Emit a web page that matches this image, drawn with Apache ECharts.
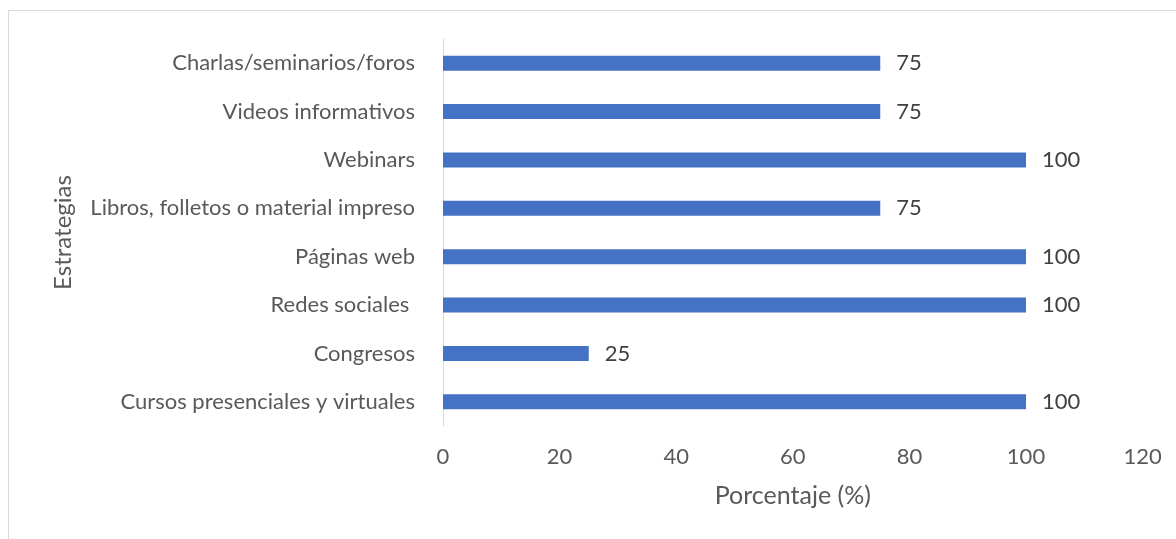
<!DOCTYPE html>
<html>
<head>
<meta charset="utf-8">
<script src="https://cdn.jsdelivr.net/npm/echarts@6/dist/echarts.min.js"></script>
<style>
  html, body { margin: 0; padding: 0; background: #fff; }
  #chart { width: 1176px; height: 539px; }
</style>
</head>
<body>
<div id="chart"></div>
<script>
// Strategies (bottom to top) and their percentages
const categories = [
  'Cursos presenciales y virtuales',
  'Congresos',
  'Redes sociales ',
  'Páginas web',
  'Libros, folletos o material impreso',
  'Webinars',
  'Videos informativos',
  'Charlas/seminarios/foros'
];
const values = [100, 25, 100, 100, 75, 100, 75, 75];
const xTicks = [0, 20, 40, 60, 80, 100, 120];

const FONT = 'Lato';
const TEXT = '#595959';

const chart = echarts.init(document.getElementById('chart'), null, { renderer: 'canvas' });
chart.setOption({
  backgroundColor: '#fff',
  animation: false,
  textStyle: { fontFamily: FONT },
  graphic: [{
    type: 'rect',
    shape: { x: 8.5, y: 10.5, width: 1300, height: 700 },
    style: { fill: 'none', stroke: '#d9d9d9', lineWidth: 1 },
    silent: true
  }],
  grid: { left: 443, right: 33.4, top: 39, bottom: 113, containLabel: false },
  xAxis: {
    type: 'value',
    min: xTicks[0],
    max: xTicks[xTicks.length - 1],
    interval: 20,
    name: 'Porcentaje (%)',
    nameLocation: 'middle',
    nameGap: 57,
    nameTextStyle: { color: TEXT, fontSize: 25, fontFamily: FONT },
    axisLine: { show: false },
    axisTick: { show: false },
    splitLine: { show: false },
    axisLabel: { color: TEXT, fontSize: 22, margin: 20, fontFamily: FONT }
  },
  yAxis: {
    type: 'category',
    data: categories,
    name: 'Estrategias',
    nameLocation: 'middle',
    nameGap: 368,
    nameTextStyle: { color: TEXT, fontSize: 24, fontFamily: FONT },
    axisLine: { show: true, lineStyle: { color: '#d9d9d9', width: 1 } },
    axisTick: { show: false },
    splitLine: { show: false },
    axisLabel: { color: TEXT, fontSize: 22, margin: 28, fontFamily: FONT }
  },
  series: [{
    type: 'bar',
    data: values,
    barWidth: 15,
    itemStyle: { color: '#4472C4' },
    label: {
      show: true,
      position: 'right',
      distance: 16,
      color: '#404040',
      fontSize: 22,
      fontFamily: FONT
    }
  }]
});
</script>
</body>
</html>
